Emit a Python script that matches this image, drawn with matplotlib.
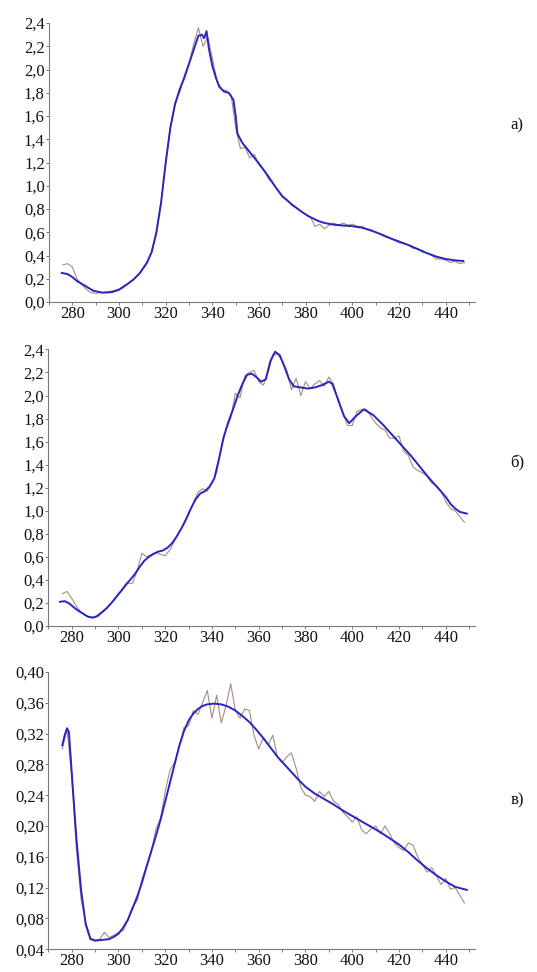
import numpy as np
import matplotlib.pyplot as plt

# smoothed spectra (blue) and raw spectra (brown), wavelength in nm
a_smooth_x = [275.5, 278, 280, 282, 285, 289, 293, 297, 300, 303, 306, 309, 312, 314, 316, 318,
              320, 322, 324, 326, 328, 330, 332, 334, 335.5, 336.5, 337.5, 338.5, 340, 341.5, 343,
              345, 347, 349, 350, 350.7, 352.8, 356, 360, 364, 367, 370, 374, 378, 381, 385, 388,
              392, 396, 400, 404, 408, 412, 416, 420, 424, 428, 432, 436, 440, 444, 447.5]
a_smooth_y = [0.25, 0.24, 0.215, 0.18, 0.145, 0.097, 0.08, 0.085, 0.105, 0.145, 0.19, 0.25, 0.34,
              0.43, 0.6, 0.85, 1.2, 1.5, 1.7, 1.83, 1.93, 2.05, 2.17, 2.29, 2.3, 2.27, 2.33, 2.18,
              2.03, 1.93, 1.85, 1.81, 1.80, 1.74, 1.6, 1.45, 1.37, 1.29, 1.19, 1.08, 0.99, 0.91,
              0.84, 0.78, 0.74, 0.70, 0.68, 0.665, 0.658, 0.652, 0.64, 0.615, 0.585, 0.55, 0.52,
              0.49, 0.455, 0.42, 0.39, 0.37, 0.358, 0.353]

raw_x = np.arange(276, 449, 2)
a_raw_y = [0.32, 0.33, 0.30, 0.20, 0.15, 0.11, 0.08, 0.075, 0.08, 0.085, 0.09, 0.10, 0.11, 0.14,
           0.16, 0.19, 0.23, 0.28, 0.33, 0.43, 0.58, 0.86, 1.18, 1.50, 1.72, 1.80, 1.95, 2.05,
           2.22, 2.36, 2.20, 2.28, 2.10, 1.90, 1.83, 1.82, 1.78, 1.50, 1.32, 1.33, 1.24, 1.27,
           1.18, 1.14, 1.06, 1.02, 0.96, 0.90, 0.88, 0.83, 0.81, 0.78, 0.75, 0.73, 0.65, 0.67,
           0.63, 0.66, 0.68, 0.66, 0.68, 0.66, 0.67, 0.65, 0.65, 0.63, 0.62, 0.60, 0.58, 0.56,
           0.55, 0.53, 0.51, 0.50, 0.49, 0.46, 0.46, 0.43, 0.42, 0.40, 0.37, 0.37, 0.36, 0.34,
           0.35, 0.33, 0.34]

b_smooth_x = [275, 277, 279, 281, 283, 285, 287, 289, 291, 293, 295, 297, 299, 301, 303, 305,
              307, 309, 311, 313, 315, 317, 319, 321, 323, 325, 327, 329, 331, 333, 335, 337,
              339, 341, 343, 345, 347, 349, 351, 353, 355, 357, 359, 361, 363, 365, 367, 369,
              371, 373, 375, 378, 381, 384, 387, 390, 391.5, 393.5, 396.5, 398.7, 401.5, 405,
              409, 413, 417, 421, 425, 429, 433, 437, 440, 442, 444, 446, 449]
b_smooth_y = [0.21, 0.215, 0.195, 0.16, 0.13, 0.105, 0.08, 0.072, 0.085, 0.12, 0.155, 0.20, 0.25,
              0.30, 0.355, 0.40, 0.45, 0.51, 0.565, 0.60, 0.625, 0.645, 0.655, 0.68, 0.72, 0.78,
              0.85, 0.93, 1.02, 1.10, 1.15, 1.17, 1.21, 1.28, 1.45, 1.64, 1.77, 1.88, 2.0, 2.10,
              2.18, 2.19, 2.16, 2.12, 2.14, 2.30, 2.38, 2.35, 2.25, 2.14, 2.08, 2.07, 2.06, 2.07,
              2.09, 2.12, 2.10, 1.99, 1.82, 1.76, 1.82, 1.88, 1.83, 1.75, 1.66, 1.57, 1.48, 1.38,
              1.28, 1.19, 1.12, 1.06, 1.02, 0.99, 0.975]
b_raw_y = [0.28, 0.30, 0.24, 0.17, 0.12, 0.09, 0.075, 0.08, 0.11, 0.14, 0.18, 0.22, 0.28, 0.32,
           0.37, 0.37, 0.48, 0.63, 0.60, 0.62, 0.64, 0.62, 0.61, 0.66, 0.74, 0.82, 0.88, 0.98,
           1.06, 1.16, 1.19, 1.17, 1.24, 1.33, 1.55, 1.70, 1.80, 2.02, 1.98, 2.17, 2.20, 2.22,
           2.12, 2.09, 2.20, 2.35, 2.36, 2.30, 2.22, 2.05, 2.15, 2.00, 2.12, 2.06, 2.10, 2.13,
           2.08, 2.16, 2.10, 1.95, 1.85, 1.74, 1.74, 1.86, 1.88, 1.88, 1.82, 1.76, 1.72, 1.70,
           1.63, 1.63, 1.65, 1.52, 1.48, 1.38, 1.35, 1.33, 1.30, 1.24, 1.22, 1.17, 1.08, 1.02,
           1.00, 0.95, 0.90]

c_smooth_x = [276, 277, 278, 278.8, 280, 282, 284, 286, 288, 290, 293, 296, 298, 300, 302, 304,
              306, 308, 310, 312, 314, 316, 318, 320, 322, 324, 326, 328, 330, 332, 334, 336,
              338, 341, 344, 347, 350, 353, 356, 359, 362, 365, 368, 371, 374, 377, 380, 384,
              388, 392, 396, 400, 404, 408, 412, 416, 420, 424, 428, 432, 436, 440, 444, 449]
c_smooth_y = [0.305, 0.318, 0.327, 0.322, 0.27, 0.184, 0.117, 0.072, 0.053, 0.051, 0.052, 0.053,
              0.056, 0.06, 0.068, 0.078, 0.093, 0.108, 0.126, 0.147, 0.167, 0.187, 0.208, 0.232,
              0.256, 0.28, 0.304, 0.323, 0.337, 0.346, 0.352, 0.356, 0.358, 0.359, 0.358, 0.355,
              0.35, 0.343, 0.335, 0.325, 0.314, 0.302, 0.29, 0.28, 0.27, 0.26, 0.251, 0.242,
              0.235, 0.228, 0.22, 0.213, 0.206, 0.199, 0.192, 0.184, 0.176, 0.166, 0.155, 0.145,
              0.136, 0.128, 0.121, 0.117]
c_raw_y = [0.300, 0.325, 0.265, 0.17, 0.105, 0.075, 0.055, 0.052, 0.053, 0.062, 0.055, 0.058,
           0.062, 0.064, 0.078, 0.095, 0.103, 0.13, 0.148, 0.165, 0.196, 0.21, 0.245, 0.272,
           0.283, 0.302, 0.328, 0.33, 0.35, 0.345, 0.36, 0.376, 0.34, 0.37, 0.334, 0.356, 0.385,
           0.35, 0.34, 0.352, 0.35, 0.318, 0.30, 0.315, 0.305, 0.318, 0.29, 0.282, 0.29, 0.295,
           0.275, 0.25, 0.24, 0.238, 0.232, 0.245, 0.238, 0.245, 0.232, 0.228, 0.218, 0.212,
           0.205, 0.212, 0.195, 0.19, 0.196, 0.2, 0.19, 0.2, 0.19, 0.178, 0.172, 0.168, 0.178,
           0.175, 0.16, 0.15, 0.14, 0.146, 0.135, 0.124, 0.132, 0.118, 0.12, 0.11, 0.10]

x_ticks = [280, 300, 320, 340, 360, 380, 400, 420, 440]
a_ticks = [0.0, 0.2, 0.4, 0.6, 0.8, 1.0, 1.2, 1.4, 1.6, 1.8, 2.0, 2.2, 2.4]
c_ticks = [0.04, 0.08, 0.12, 0.16, 0.20, 0.24, 0.28, 0.32, 0.36, 0.40]
panel_names = ["а)", "б)", "в)"]

plt.rcParams['font.family'] = 'Liberation Serif'
fig = plt.figure(figsize=(5.37, 9.72), dpi=100)

boxes = [[0.0912, 0.6893, 0.7933, 0.2870],
         [0.0900, 0.3560, 0.7945, 0.2845],
         [0.0900, 0.0235, 0.7945, 0.2851]]
panels = [(a_smooth_x, a_smooth_y, a_raw_y, a_ticks, 1),
          (b_smooth_x, b_smooth_y, b_raw_y, a_ticks, 1),
          (c_smooth_x, c_smooth_y, c_raw_y, c_ticks, 2)]
label_y = [0.871, 0.523, 0.177]

for box, (sx, sy, ry, yt, dec), name, ly in zip(boxes, panels, panel_names, label_y):
    ax = fig.add_axes(box)
    ax.plot(raw_x, ry, color='#ad8a7e', lw=0.8)
    ax.plot(sx, sy, color='#2626c0', lw=1.4)
    ax.set_xlim(271.7, 452.5)
    ax.set_ylim(yt[0], yt[-1])
    ax.set_xticks(x_ticks)
    ax.set_xticks(np.arange(270, 451, 10), minor=True)
    ax.set_yticks(yt)
    ax.set_yticklabels([f"{v:.{dec}f}".replace('.', ',') for v in yt])
    for s in ['top', 'right']:
        ax.spines[s].set_visible(False)
    for s in ['left', 'bottom']:
        ax.spines[s].set_color('#7a7a7a')
        ax.spines[s].set_linewidth(0.8)
    ax.tick_params(axis='both', which='both', labelsize=12, colors='#7a7a7a',
                   labelcolor='#111111', length=2, width=0.7, pad=1)
    fig.text(0.963, ly, name, fontsize=12, ha='center', va='center', color='#111111')

fig.savefig("out.png", dpi=100)
